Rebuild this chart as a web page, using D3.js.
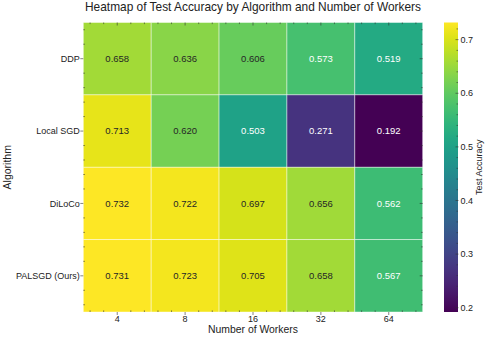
<!DOCTYPE html>
<html>
<head>
<meta charset="utf-8">
<script src="https://cdn.jsdelivr.net/npm/d3@7"></script>
<style>
  body { margin: 0; background: #fff; }
  svg text { font-family: "Liberation Sans", Arial, sans-serif; }
</style>
</head>
<body>
<svg id="chart" width="488" height="338"></svg>
<script>
// data
const algorithms = ["DDP", "Local SGD", "DiLoCo", "PALSGD (Ours)"];
const workers = ["4", "8", "16", "32", "64"];
const acc_ddp = [0.658, 0.636, 0.606, 0.573, 0.519];
const acc_local_sgd = [0.713, 0.620, 0.503, 0.271, 0.192];
const acc_diloco = [0.732, 0.722, 0.697, 0.656, 0.562];
const acc_palsgd = [0.731, 0.723, 0.705, 0.658, 0.567];
const cbar_ticks = [0.2, 0.3, 0.4, 0.5, 0.6, 0.7];

const rows = [acc_ddp, acc_local_sgd, acc_diloco, acc_palsgd];
let cells = [];
rows.forEach((vals, r) => {
  vals.forEach((v, c) => {
    cells.push({algo: algorithms[r], workers: workers[c], value: v});
  });
});

const svg = d3.select("#chart");
const margin = {top: 22.5, left: 83.3, right: 65.3, bottom: 26};
const width = 488 - margin.left - margin.right,
  height = 338 - margin.top - margin.bottom;

const all_vals = rows.flat();
const vmin = d3.min(all_vals), vmax = d3.max(all_vals);
const color = d3.scaleSequential(d3.interpolateViridis).domain([vmin, vmax]);

const x = d3.scaleBand().domain(workers).range([margin.left, margin.left + width]);
const y = d3.scaleBand().domain(algorithms).range([margin.top, margin.top + height]);

// cells
svg.append("g").selectAll("rect")
  .data(cells)
  .enter()
  .append("rect")
  .attr("x", d => x(d.workers))
  .attr("y", d => y(d.algo))
  .attr("width", x.bandwidth())
  .attr("height", y.bandwidth())
  .attr("fill", d => color(d.value))
  .attr("stroke", "rgba(255,255,255,0.55)")
  .attr("stroke-width", 0.8);

// annotations (seaborn style: light text on dark cells)
function textColor(v) {
  const c = d3.rgb(color(v));
  const lum = [c.r, c.g, c.b].map(u => {
    u = u / 255;
    return u <= 0.03928 ? u / 12.92 : Math.pow((u + 0.055) / 1.055, 2.4);
  });
  const L = 0.2126 * lum[0] + 0.7152 * lum[1] + 0.0722 * lum[2];
  return L > 0.408 ? "#262626" : "#ffffff";
}
svg.append("g").selectAll("text")
  .data(cells)
  .enter()
  .append("text")
  .attr("x", d => x(d.workers) + x.bandwidth() / 2)
  .attr("y", d => y(d.algo) + y.bandwidth() / 2)
  .attr("dy", "0.35em")
  .attr("text-anchor", "middle")
  .attr("font-size", 9.5)
  .attr("fill", d => textColor(d.value))
  .text(d => d.value.toFixed(3));

// ticks: major outward on left/bottom, minor inward on all sides
const tickCol = "#333";
const tg = svg.append("g").attr("stroke", tickCol).attr("stroke-width", 0.6);
const x0 = margin.left, x1 = margin.left + width, y0 = margin.top, y1 = margin.top + height;
const offs = [-0.4, -0.2, 0.2, 0.4];
workers.forEach(w => {
  const cx = x(w) + x.bandwidth() / 2;
  tg.append("line").attr("x1", cx).attr("x2", cx).attr("y1", y1).attr("y2", y1 + 3);
  tg.append("line").attr("x1", cx).attr("x2", cx).attr("y1", y0).attr("y2", y0 + 3);
  offs.forEach(o => {
    const mx = cx + o * x.bandwidth();
    tg.append("line").attr("x1", mx).attr("x2", mx).attr("y1", y1).attr("y2", y1 - 1.6);
    tg.append("line").attr("x1", mx).attr("x2", mx).attr("y1", y0).attr("y2", y0 + 1.6);
  });
});
algorithms.forEach(a => {
  const cy = y(a) + y.bandwidth() / 2;
  tg.append("line").attr("x1", x0 - 3).attr("x2", x0).attr("y1", cy).attr("y2", cy);
  tg.append("line").attr("x1", x1 - 3).attr("x2", x1).attr("y1", cy).attr("y2", cy);
  offs.forEach(o => {
    const my = cy + o * y.bandwidth();
    tg.append("line").attr("x1", x0).attr("x2", x0 + 1.6).attr("y1", my).attr("y2", my);
    tg.append("line").attr("x1", x1 - 1.6).attr("x2", x1).attr("y1", my).attr("y2", my);
  });
});

// tick labels
svg.append("g").selectAll("text")
  .data(workers)
  .enter()
  .append("text")
  .attr("x", d => x(d) + x.bandwidth() / 2)
  .attr("y", y1 + 9.5)
  .attr("text-anchor", "middle")
  .attr("font-size", 9)
  .attr("fill", "#222")
  .text(d => d);

svg.append("g").selectAll("text")
  .data(algorithms)
  .enter()
  .append("text")
  .attr("x", x0 - 3.5)
  .attr("y", d => y(d) + y.bandwidth() / 2)
  .attr("dy", "0.35em")
  .attr("text-anchor", "end")
  .attr("font-size", 9)
  .attr("fill", "#222")
  .text(d => d);

// axis labels + title
svg.append("text")
  .attr("x", (x0 + x1) / 2).attr("y", 333)
  .attr("text-anchor", "middle")
  .attr("font-size", 10.4)
  .attr("fill", "#222")
  .text("Number of Workers");

svg.append("text")
  .attr("transform", `translate(10.5, ${(y0 + y1) / 2}) rotate(-90)`)
  .attr("text-anchor", "middle")
  .attr("font-size", 10.5)
  .attr("fill", "#222")
  .text("Algorithm");

svg.append("text")
  .attr("x", (x0 + x1) / 2).attr("y", 11)
  .attr("text-anchor", "middle")
  .attr("font-size", 11.9)
  .attr("fill", "#222")
  .text("Heatmap of Test Accuracy by Algorithm and Number of Workers");

// colorbar
const cb_x = 444, cb_w = 14;
const cb_y = d3.scaleLinear().domain([vmin, vmax]).range([y1, y0]);
const defs = svg.append("defs");
const grad = defs.append("linearGradient")
  .attr("id", "cbar_grad")
  .attr("x1", "0").attr("y1", "1").attr("x2", "0").attr("y2", "0");
d3.range(0, 1.0001, 0.05).forEach(t => {
  grad.append("stop")
    .attr("offset", t)
    .attr("stop-color", color(vmin + t * (vmax - vmin)));
});
svg.append("rect")
  .attr("x", cb_x).attr("y", y0)
  .attr("width", cb_w).attr("height", y1 - y0)
  .attr("fill", "url(#cbar_grad)");

const cbt = svg.append("g").attr("stroke", tickCol).attr("stroke-width", 0.6);
cbar_ticks.forEach(t => {
  cbt.append("line")
    .attr("x1", cb_x + cb_w - 2.5).attr("x2", cb_x + cb_w + 0.5)
    .attr("y1", cb_y(t)).attr("y2", cb_y(t));
});
d3.range(0.2, vmax, 0.02).forEach(t => {
  if (Math.abs(Math.round(t * 10) - t * 10) < 1e-6) return;
  cbt.append("line")
    .attr("x1", cb_x + cb_w - 1.5).attr("x2", cb_x + cb_w)
    .attr("y1", cb_y(t)).attr("y2", cb_y(t));
});
svg.append("g").selectAll("text")
  .data(cbar_ticks)
  .enter()
  .append("text")
  .attr("x", cb_x + cb_w + 2.5)
  .attr("y", d => cb_y(d))
  .attr("dy", "0.35em")
  .attr("font-size", 9)
  .attr("fill", "#222")
  .text(d => d.toFixed(1));

svg.append("text")
  .attr("transform", `translate(482, ${(y0 + y1) / 2}) rotate(-90)`)
  .attr("text-anchor", "middle")
  .attr("font-size", 9)
  .attr("fill", "#222")
  .text("Test Accuracy");
</script>
</body>
</html>
